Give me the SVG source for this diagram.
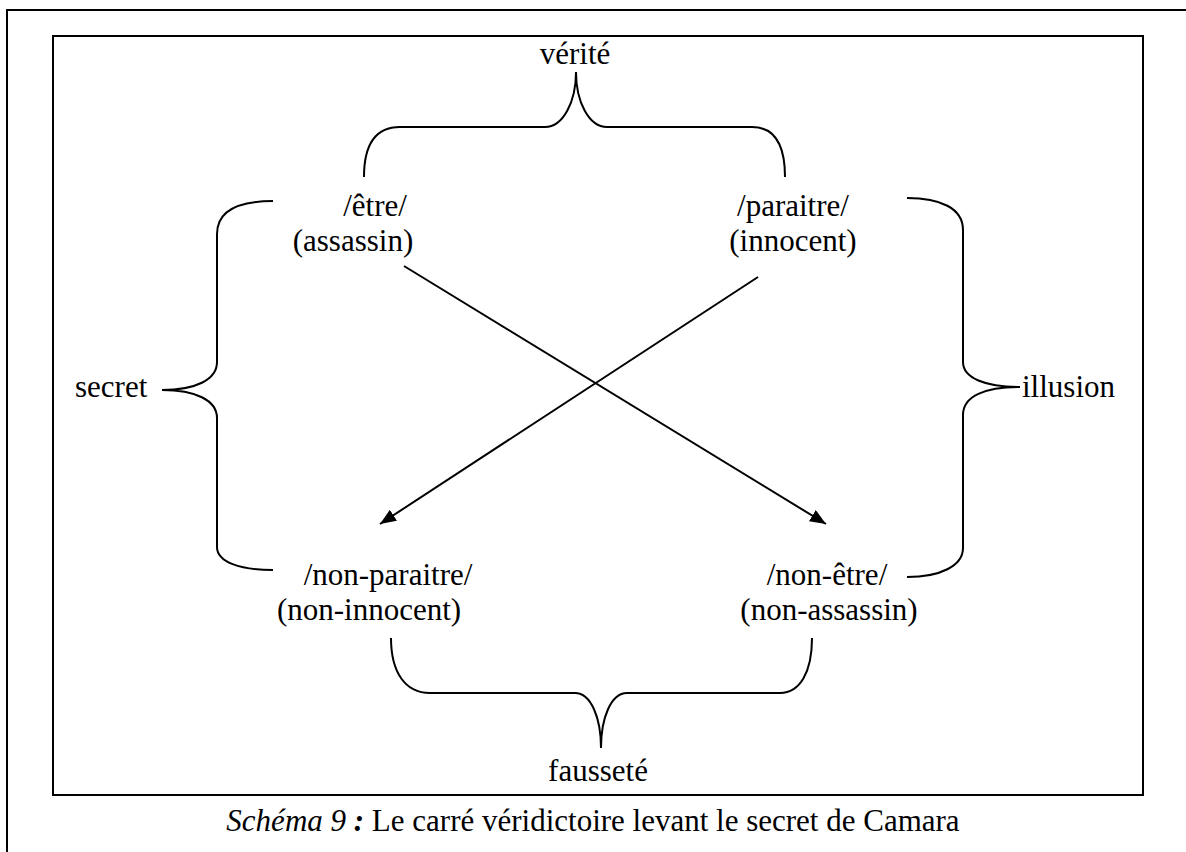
<svg xmlns="http://www.w3.org/2000/svg" width="1186" height="852" viewBox="0 0 1186 852">
<style>
text{font-family:"Liberation Serif","Times New Roman",serif;font-size:31px;fill:#000}
.m{text-anchor:middle}
.brace{fill:none;stroke:#000;stroke-width:2}
.frame{fill:none;stroke:#000;stroke-width:2}
.conn{fill:none;stroke:#000;stroke-width:2}
</style>
<defs>
<marker id="ah" markerUnits="userSpaceOnUse" markerWidth="17" markerHeight="13" refX="16" refY="6.5" orient="auto">
<path d="M0,0 L16,6.5 L0,13 z" fill="#000"/>
</marker>
</defs>
<rect width="1186" height="852" fill="#fff"/>
<path class="frame" d="M7,870 V10 H1200"/>
<rect class="frame" x="53" y="36" width="1090" height="759"/>

<g id="etre" font-family="Liberation Serif, serif">
<text class="m" x="375" y="216">/être/</text>
<text class="m" x="353" y="251">(assassin)</text>
</g>
<g id="paraitre" font-family="Liberation Serif, serif">
<text class="m" x="793" y="216">/paraitre/</text>
<text class="m" x="793" y="251">(innocent)</text>
</g>
<g id="non-paraitre" font-family="Liberation Serif, serif">
<text class="m" x="388" y="585">/non-paraitre/</text>
<text class="m" x="369" y="620">(non-innocent)</text>
</g>
<g id="non-etre" font-family="Liberation Serif, serif">
<text class="m" x="827" y="585">/non-être/</text>
<text class="m" x="829" y="620">(non-assassin)</text>
</g>

<g id="verite">
<path class="brace" d="M364,177 C364,145 375,127 400,127 L545,127 C563,127 576,102 576,72 C576,102 589,127 607,127 L752,127 C775,127 785,145 785,177"/>
<text class="m" x="575" y="64">vérité</text>
</g>
<g id="secret">
<path class="brace" d="M273,201 C240,201 217,210 217,234 L217,362 C217,380 195,390 162,390 C195,390 217,400 217,418 L217,547 C217,562 240,570 273,570"/>
<text x="75" y="397">secret</text>
</g>
<g id="illusion">
<path class="brace" d="M907,198 C940,198 963,208 963,230 L963,362 C963,378 985,387 1020,387 C985,387 963,396 963,415 L963,548 C963,566 940,577 907,577"/>
<text x="1022" y="397">illusion</text>
</g>
<g id="faussete">
<path class="brace" d="M391,638 C391,672 405,693 430,693 L575,693 C591,693 601,718 601,748 C601,718 611,693 627,693 L780,693 C800,693 812,672 812,638"/>
<text class="m" x="598" y="781">fausseté</text>
</g>

<g id="connectors">
<line class="conn" x1="404" y1="266" x2="826" y2="524" marker-end="url(#ah)"/>
<line class="conn" x1="758" y1="277" x2="380" y2="524" marker-end="url(#ah)"/>
</g>

<g id="caption">
<text class="m" x="593" y="831"><tspan font-style="italic">Schéma 9</tspan><tspan font-style="italic" font-weight="bold"> :</tspan> Le carré véridictoire levant le secret de Camara</text>
</g>
</svg>
